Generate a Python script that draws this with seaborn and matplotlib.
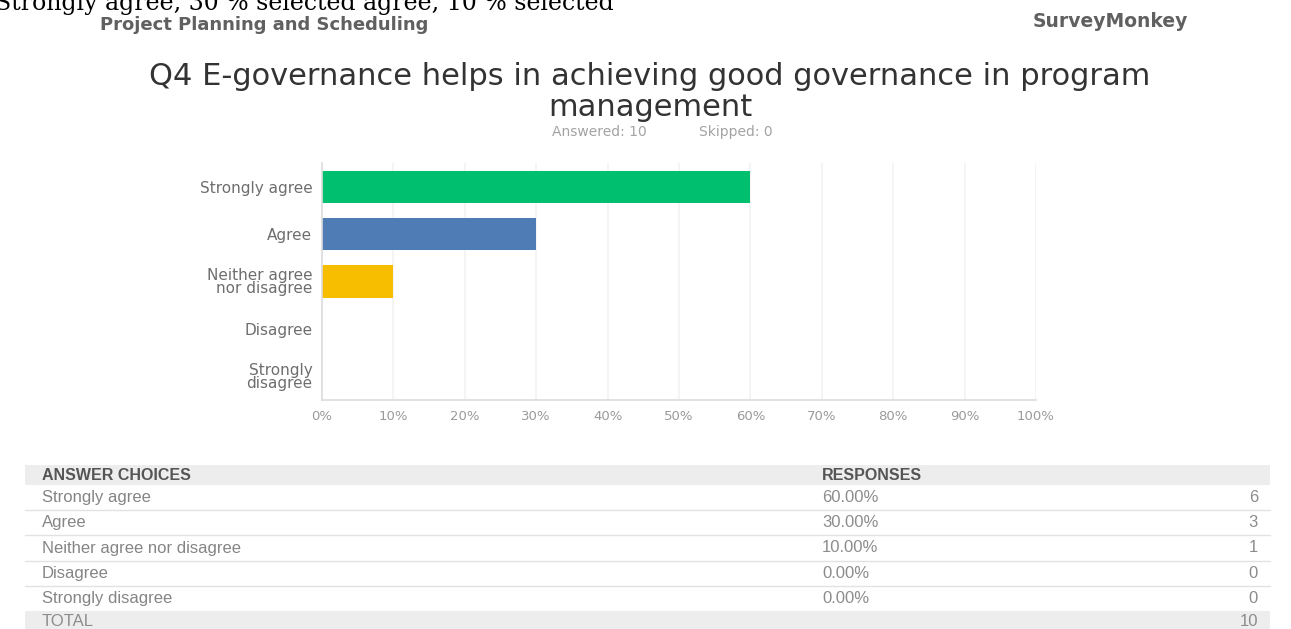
import matplotlib
matplotlib.use("Agg")
import matplotlib.pyplot as plt
from matplotlib.patches import Rectangle
import seaborn as sns
import pandas as pd

# ---- survey data -------------------------------------------------------
categories = ["Strongly agree", "Agree", "Neither agree nor disagree",
              "Disagree", "Strongly disagree"]
axis_labels = ["Strongly agree", "Agree", "Neither agree\nnor disagree",
               "Disagree", "Strongly\ndisagree"]
percentages = [60, 30, 10, 0, 0]
counts = [6, 3, 1, 0, 0]
answered = 10
skipped = 0
x_ticks = [0, 10, 20, 30, 40, 50, 60, 70, 80, 90, 100]
bar_colors = ["#00BF6F", "#507CB6", "#F7BE00", "#F05B24", "#7D5BA6"]

title = "Q4 E-governance helps in achieving good governance in program\nmanagement"
doc_line = "Strongly agree, 30 % selected agree, 10 % selected"
report_name = "Project Planning and Scheduling"
brand = "SurveyMonkey"

df = pd.DataFrame({"choice": axis_labels, "pct": percentages})

sns.set_theme(style="white")
plt.rcParams["font.family"] = ["DejaVu Sans"]

W, H = 1291, 629
fig = plt.figure(figsize=(W / 100, H / 100), dpi=100)
fig.patch.set_facecolor("white")

# overlay in pixel coordinates for page text and the summary table
ov = fig.add_axes([0, 0, 1, 1], zorder=0)
ov.set_xlim(0, W)
ov.set_ylim(H, 0)
ov.axis("off")

# running text of the document (cut at the top edge)
ov.text(-5, 10, doc_line, family="DejaVu Serif", fontsize=17,
        color="black", va="baseline", ha="left")

# page header
ov.text(100, 30.5, report_name, fontsize=13, color="#606060",
        fontweight="bold", va="baseline", ha="left")
ov.text(1033, 27, brand, fontsize=13.5, color="#606060",
        fontweight="bold", va="baseline", ha="left")

# question title and response summary
ov.text(650, 116, title, fontsize=22, color="#333333", ha="center",
        va="baseline", multialignment="center", linespacing=1.08)
ov.text(599, 132, f"Answered: {answered}", fontsize=10, color="#a3a3a3",
        ha="center", va="center")
ov.text(736, 132, f"Skipped: {skipped}", fontsize=10, color="#a3a3a3",
        ha="center", va="center")

# ---- bar chart ---------------------------------------------------------
left, right, top, bottom = 322, 1036, 163, 400
ax = fig.add_axes([left / W, 1 - bottom / H, (right - left) / W, (bottom - top) / H],
                  zorder=2)
sns.barplot(data=df, x="pct", y="choice", hue="choice", palette=bar_colors,
            legend=False, orient="h", width=0.68, saturation=1,
            linewidth=0, ax=ax)
ax.set_xlim(0, 100)
ax.set_xticks(x_ticks)
ax.set_xticklabels([f"{t}%" for t in x_ticks], fontsize=9.5, color="#9a9a9a")
ax.tick_params(axis="y", labelsize=11, labelcolor="#6e6e6e", length=0, pad=7)
ax.tick_params(axis="x", length=0, pad=7)
for lab in ax.get_yticklabels():
    lab.set_linespacing(0.85)
ax.set_xlabel("")
ax.set_ylabel("")
ax.set_axisbelow(True)
ax.grid(axis="x", color="#f2f2f2", linewidth=1.2)
ax.grid(axis="y", visible=False)
for side in ["top", "right"]:
    ax.spines[side].set_visible(False)
for side in ["left", "bottom"]:
    ax.spines[side].set_color("#dcdcdc")
    ax.spines[side].set_linewidth(1.2)

# ---- summary table ------------------------------------------------------
t_left, t_right = 25, 1270
head_top, head_bot = 465, 485
row_h = 25.2
pct_x, cnt_x, txt_x = 822, 1258, 42
row_font = dict(family="Liberation Sans", fontsize=12, va="center")

ov.add_patch(Rectangle((t_left, head_top), t_right - t_left, head_bot - head_top,
                       facecolor="#ededed", edgecolor="none"))
ov.text(txt_x, (head_top + head_bot) / 2, "ANSWER CHOICES", family="Liberation Sans",
        fontsize=11.5, fontweight="bold", color="#555555", va="center")
ov.text(pct_x, (head_top + head_bot) / 2, "RESPONSES", family="Liberation Sans",
        fontsize=11.5, fontweight="bold", color="#555555", va="center")

for i, (name, p, c) in enumerate(zip(categories, percentages, counts)):
    y0 = head_bot + i * row_h
    yc = y0 + row_h / 2
    ov.text(txt_x, yc, name, color="#858585", **row_font)
    ov.text(pct_x, yc, f"{p:.2f}%", color="#8c8c8c", **row_font)
    ov.text(cnt_x, yc, f"{c}", color="#8c8c8c", ha="right", **row_font)
    if i < len(categories) - 1:
        ov.plot([t_left, t_right], [y0 + row_h, y0 + row_h], color="#e2e2e2", lw=1)

tot_top = head_bot + len(categories) * row_h
ov.add_patch(Rectangle((t_left, tot_top), t_right - t_left, H - tot_top + 5,
                       facecolor="#ededed", edgecolor="none"))
ov.text(txt_x, tot_top + 10, "TOTAL", color="#8c8c8c", **row_font)
ov.text(cnt_x, tot_top + 10, f"{sum(counts)}", color="#8c8c8c", ha="right",
        **row_font)

fig.savefig("out.png", dpi=100, facecolor="white")
